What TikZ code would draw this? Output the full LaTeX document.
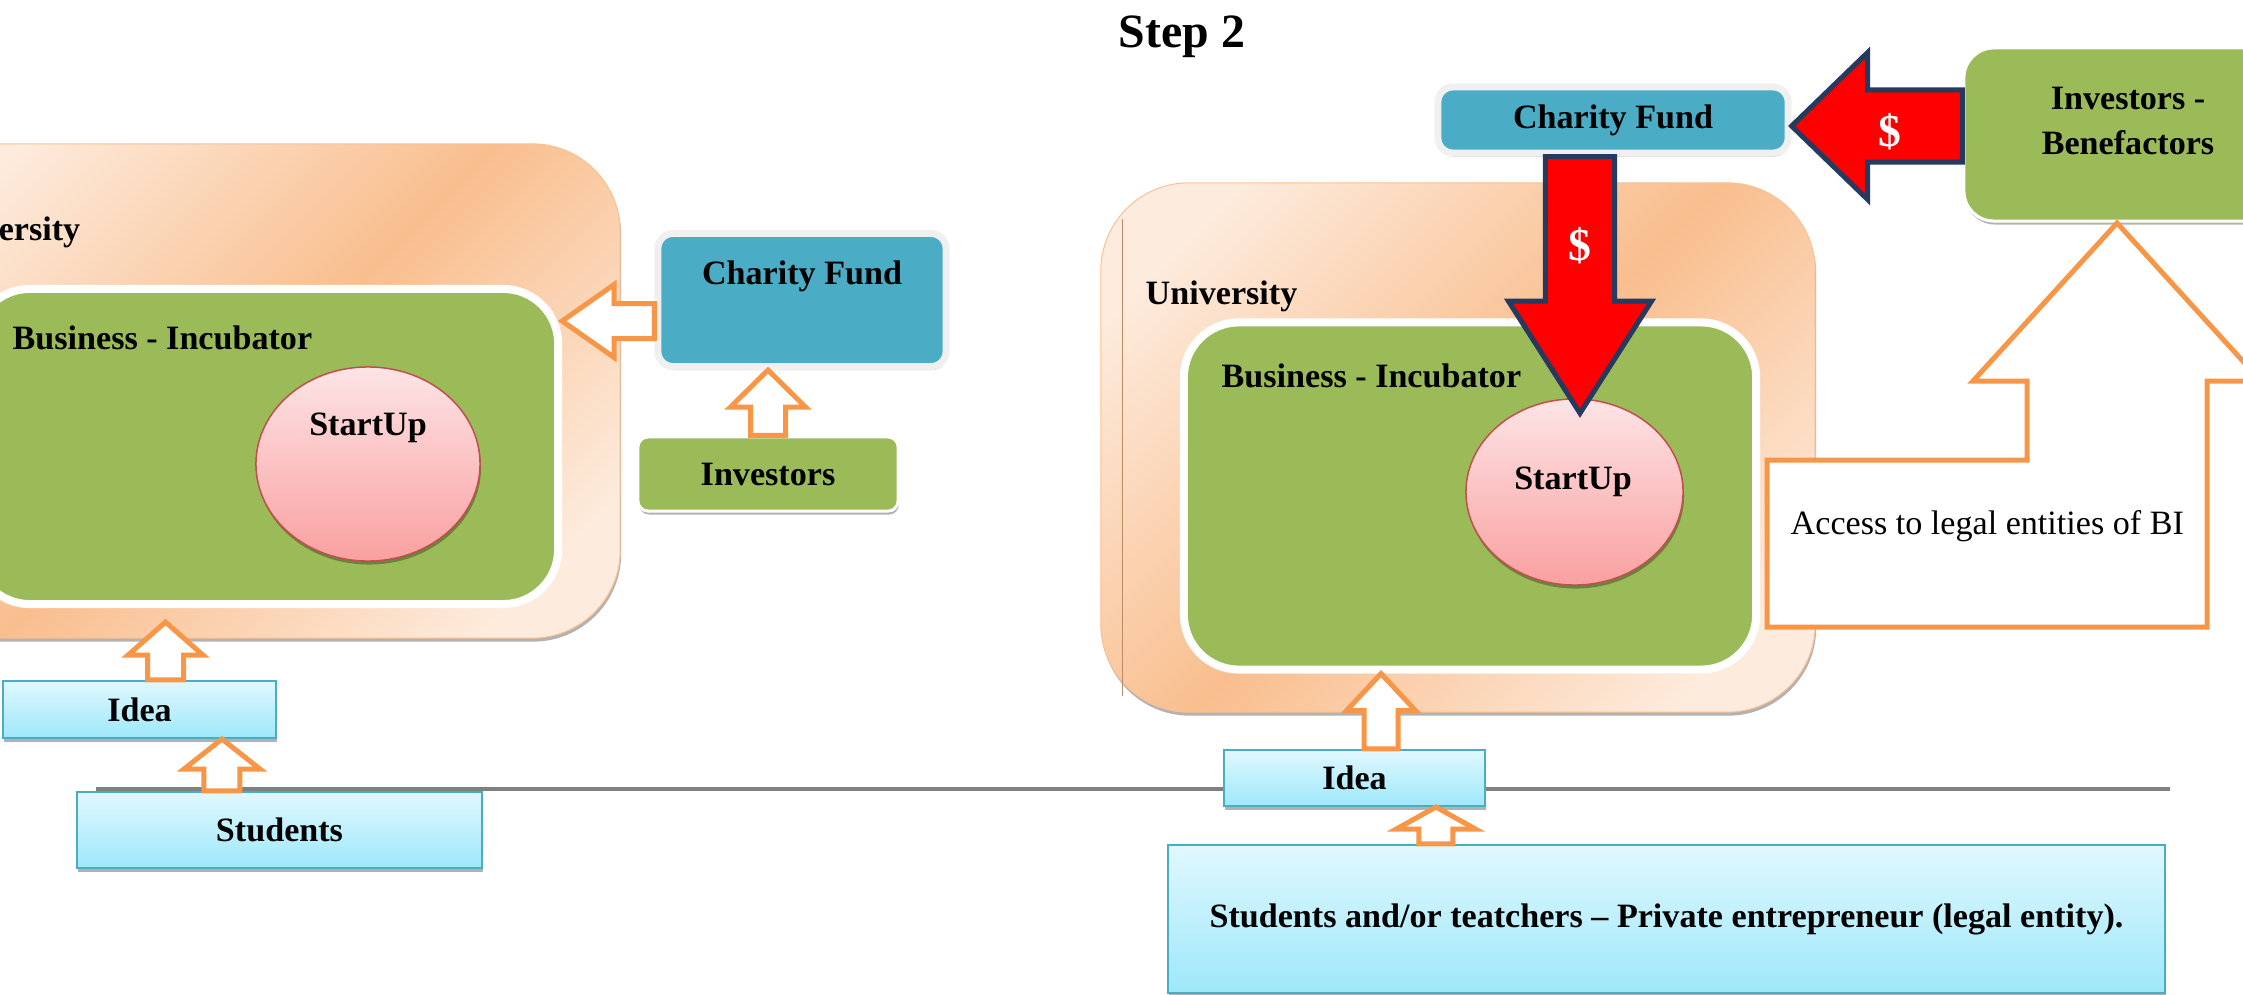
\documentclass[tikz,border=0pt]{standalone}
\usepackage{fontspec}
\setmainfont{Liberation Serif}
\usetikzlibrary{calc, shapes.geometric, shadows}

\definecolor{uniLight}{RGB}{253,236,222}
\definecolor{uniDark}{RGB}{249,190,142}
\definecolor{uniEdge}{RGB}{250,192,144}
\definecolor{incGreen}{RGB}{155,187,89}
\definecolor{fundBlue}{RGB}{75,172,198}
\definecolor{fundEdge}{RGB}{240,240,240}
\definecolor{ideaTop}{RGB}{224,248,254}
\definecolor{ideaBot}{RGB}{158,232,250}
\definecolor{suTop}{RGB}{253,228,230}
\definecolor{suBot}{RGB}{250,160,160}
\definecolor{suEdge}{RGB}{192,80,77}
\definecolor{arrOrange}{RGB}{247,150,70}
\definecolor{arrNavy}{RGB}{36,58,94}

\pgfdeclarehorizontalshading{unishade}{100bp}{color(0bp)=(uniLight); color(22bp)=(uniLight); color(50bp)=(uniDark); color(78bp)=(uniLight); color(100bp)=(uniLight)}

% block arrow: style, tail, tip, half shaft, half head, head length
\newcommand{\blockarrow}[6]{%
  \coordinate (ba-base) at ($(#3)!#6!(#2)$);
  \draw[#1] ($(#2)!#4!90:(#3)$) -- ($(ba-base)!#4!-90:(#2)$)
    -- ($(ba-base)!#5!-90:(#2)$) -- (#3)
    -- ($(ba-base)!#5!90:(#2)$) -- ($(ba-base)!#4!90:(#2)$)
    -- ($(#2)!#4!-90:(#3)$) -- cycle;%
}

\begin{document}
\begin{tikzpicture}[x=0.01cm, y=-0.01cm,
    txt/.style={font=\fontsize{9.7}{12}\selectfont\bfseries, inner sep=0pt},
    boxshade/.style={drop shadow={shadow xshift=0.01cm, shadow yshift=-0.035cm, fill=black, opacity=0.3}},
    uni/.style={boxshade, shade, shading=unishade, shading angle=-45, draw=uniEdge, line width=0.01cm, rounded corners=0.88cm, inner sep=0pt},
    incub/.style={boxshade, fill=incGreen, draw=white, line width=0.08cm, rounded corners=0.55cm, inner sep=0pt},
    startup/.style={boxshade, ellipse, top color=suTop, bottom color=suBot, draw=suEdge, line width=0.015cm, inner sep=0pt},
    fund/.style={boxshade, fill=fundBlue, draw=fundEdge, line width=0.07cm, rounded corners=0.15cm},
    invbox/.style={boxshade, fill=incGreen, draw=white, line width=0.03cm, rounded corners=0.1cm},
    ideabox/.style={boxshade, top color=ideaTop, bottom color=ideaBot, draw=fundBlue, line width=0.02cm},
    hollow/.style={fill=white, draw=arrOrange, line width=0.05cm},
    money/.style={fill=red, draw=arrNavy, line width=0.05cm},
    dollar/.style={font=\fontsize{13}{15}\selectfont\bfseries, text=white, inner sep=0pt},
    divider/.style={draw=gray, line width=0.04cm},
    uniline/.style={draw={rgb,255:red,190;green,140;blue,100}, line width=0.01cm}]

    \useasboundingbox (0,0) rectangle (2243,994);
    \clip (0,0) rectangle (2243,994);

    \node[txt, font=\fontsize{13.6}{16}\selectfont\bfseries, anchor=base] (title) at (1182,48) {Step 2};

    % step 1
    \node[uni, minimum width=7.4cm, minimum height=4.94cm] (uni1) at (250,391) {};
    \node[txt, anchor=base west] (uni1lbl) at (-72,240) {University};
    \node[incub, minimum width=5.83cm, minimum height=3.15cm] (inc1) at (266.5,446.5) {};
    \node[txt, anchor=base west] (inc1lbl) at (12,349) {Business - Incubator};
    \node[startup, minimum width=2.24cm, minimum height=1.94cm] (su1) at (368,464) {};
    \node[txt, anchor=base] (su1lbl) at (368,435) {StartUp};
    \node[fund, minimum width=2.88cm, minimum height=1.33cm] (cf1) at (802,300) {};
    \node[txt, anchor=base] (cf1lbl) at (802,284) {Charity Fund};
    \node[invbox, txt, minimum width=2.6cm, minimum height=0.74cm] (inv1) at (768,474) {Investors};

    \coordinate (divL) at (96,789);
    \coordinate (divR) at (2170,789);
    \draw[divider] (divL) -- (divR);

    \node[ideabox, txt, minimum width=2.73cm, minimum height=0.57cm] (idea1) at (139.5,709.5) {Idea};
    \node[ideabox, txt, minimum width=4.05cm, minimum height=0.76cm] (stu1) at (279.5,830) {Students};

    \coordinate (a1t) at ([xshift=0.26cm]idea1.north);
    \coordinate (a1h) at ($(a1t |- inc1.south)+(0,14)$);
    \blockarrow{hollow}{a1t}{a1h}{0.18cm}{0.375cm}{0.33cm}
    \coordinate (a2t) at ([xshift=-0.575cm]stu1.north);
    \coordinate (a2h) at (a2t |- idea1.south);
    \blockarrow{hollow}{a2t}{a2h}{0.18cm}{0.38cm}{0.30cm}
    \coordinate (a3t) at ([yshift=-0.21cm]cf1.west);
    \coordinate (a3h) at (a3t -| inc1.east);
    \blockarrow{hollow}{a3t}{a3h}{0.175cm}{0.365cm}{0.52cm}
    \coordinate (a4h) at (inv1.north |- cf1.south);
    \blockarrow{hollow}{inv1.north}{a4h}{0.175cm}{0.375cm}{0.37cm}

    % step 2
    \node[uni, minimum width=7.14cm, minimum height=5.29cm] (uni2) at (1458,447.5) {};
    \draw[uniline] (1122,219) -- (1122,696);
    \node[txt, anchor=base west] (uni2lbl) at (1145,304) {University};
    \node[incub, minimum width=5.72cm, minimum height=3.47cm] (inc2) at (1470,496) {};
    \node[txt, anchor=base west] (inc2lbl) at (1221,387) {Business - Incubator};
    \node[startup, minimum width=2.17cm, minimum height=1.86cm] (su2) at (1574.5,492) {};
    \node[txt, anchor=base] (su2lbl) at (1573,489) {StartUp};
    \node[fund, txt, minimum width=3.5cm, minimum height=0.66cm] (cf2) at (1613,120) {Charity Fund};
    \node[invbox, rounded corners=0.3cm, minimum width=3.28cm, minimum height=1.73cm] (ib2) at (2128,134.5) {};
    \node[txt, font=\fontsize{9.7}{13}\selectfont\bfseries, align=center] (ib2lbl) at (2128,121) {Investors -\\Benefactors};

    \draw[hollow] (1767,460) -- (2027,460) -- (2027,381) -- (1973,381) -- (2117,223)
        -- (2261,381) -- (2207,381) -- (2207,627) -- (1767,627) -- cycle;
    \node[anchor=base west, inner sep=0pt, font=\fontsize{9.7}{12}\selectfont] (acc2) at (1790,534) {Access to legal entities of BI};

    \node[ideabox, txt, minimum width=2.61cm, minimum height=0.56cm] (idea2) at (1354.5,778) {Idea};
    \node[ideabox, txt, minimum width=9.97cm, minimum height=1.48cm] (bot2) at (1666.5,919) {Students and/or teatchers – Private entrepreneur (legal entity).};

    \coordinate (a5t) at ([xshift=0.265cm]idea2.north);
    \coordinate (a5h) at (a5t |- inc2.south);
    \blockarrow{hollow}{a5t}{a5h}{0.17cm}{0.345cm}{0.37cm}
    \coordinate (a6t) at ([xshift=-2.305cm]bot2.north);
    \coordinate (a6h) at (a6t |- idea2.south);
    \blockarrow{hollow}{a6t}{a6h}{0.17cm}{0.395cm}{0.22cm}

    \coordinate (m1h) at ($(cf2.east)+(0,6)$);
    \coordinate (m1t) at (m1h -| ib2.west);
    \blockarrow{money}{m1t}{m1h}{0.36cm}{0.735cm}{0.76cm}
    \node[dollar] (m1lbl) at (1890,132) {\$};
    \coordinate (m2t) at ([xshift=-0.33cm]cf2.south);
    \coordinate (m2h) at ($(m2t |- su2.north)+(0,15)$);
    \blockarrow{money}{m2t}{m2h}{0.345cm}{0.715cm}{1.12cm}
    \node[dollar] (m2lbl) at (1580,246) {\$};
\end{tikzpicture}
\end{document}
